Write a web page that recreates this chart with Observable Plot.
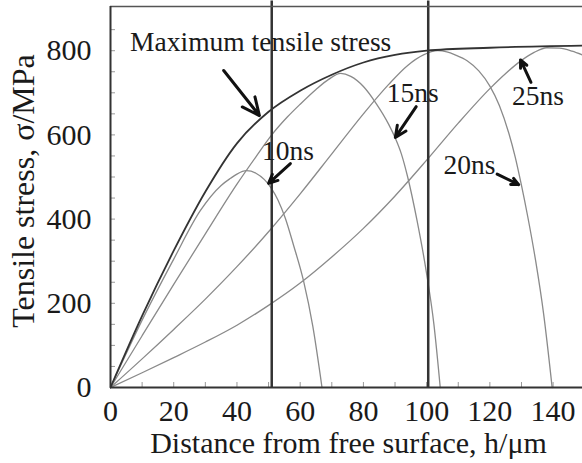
<!DOCTYPE html>
<html><head><meta charset="utf-8">
<script src="https://cdn.jsdelivr.net/npm/d3@7"></script>
<script src="https://cdn.jsdelivr.net/npm/@observablehq/plot@0.6"></script>
<style>body{margin:0;background:#fff}</style>
</head><body><div id="chart"></div>
<script>
const xTicks = [0, 20, 40, 60, 80, 100, 120, 140];
const xMinor = [10, 20, 30, 40, 50, 60, 70, 80, 90, 100, 110, 120, 130, 140];
const yTicks = [0, 200, 400, 600, 800];
const yMinor = [50, 100, 150, 200, 250, 300, 350, 400, 450, 500, 550, 600, 650, 700, 750, 800, 850];

const envelope = [[0,0],[10,170],[20,325],[30,465],[40,580],[50,655],[60,705],[70,743],[80,772],[90,790],[100,800],[120,807],[149.3,812]];
const ns10 = [[0,0],[10,160],[20,305],[28.4,420],[35,480],[38,497],[40,507],[43,515],[46,509],[51,472],[53,445],[55.3,402],[57.9,338],[61.1,252],[64,145],[66.9,0]];
const ns15 = [[0,0],[10,123],[20,245],[30,365],[40,483],[46,548],[51,600],[56,643],[60,673],[65,708],[69,732],[72.8,746],[76,739],[80,715],[84,675],[88,625],[90.1,592],[92,555],[94,500],[97,395],[100,270],[102.3,150],[104.3,0]];
const ns20 = [[0,0],[10,68],[20,138],[30,210],[40,287],[50,370],[60,460],[70,555],[80,650],[88,720],[94,765],[99,790],[103.5,800],[106.4,797],[109,790],[112.8,776],[116.5,752],[120,716],[123,670],[126,604],[128,548],[130,480],[132,405],[134.5,300],[137,175],[139.7,0]];
const ns25 = [[0,0],[10,35],[20,71],[30,108],[40,148],[50,195],[60,248],[70,310],[80,378],[90,455],[100,540],[110,628],[120,710],[125,746],[130,777],[134,796],[138,807],[142,806],[146,799],[149.3,790]];
const seriesNames = ["10ns", "15ns", "20ns", "25ns"];
const seriesData = [ns10, ns15, ns20, ns25];

const vLines = [51, 100.5];

const labels = [
  {text: "Maximum tensile stress", x: 6.2, y: 800},
  {text: "10ns", x: 47.9, y: 541},
  {text: "15ns", x: 87.4, y: 678},
  {text: "20ns", x: 105.3, y: 507},
  {text: "25ns", x: 127, y: 670}
];
const arrows = [
  {x1: 35.8, y1: 753, x2: 47.1, y2: 646},
  {x1: 56.9, y1: 532, x2: 50.0, y2: 485},
  {x1: 96.7, y1: 667, x2: 90.1, y2: 594},
  {x1: 133.0, y1: 725, x2: 129.7, y2: 778},
  {x1: 122.3, y1: 507, x2: 129.1, y2: 482}
];

const rows = seriesData.flatMap((pts, i) => pts.map(([x, y]) => ({t: seriesNames[i], x, y})));
const env = envelope.map(([x, y]) => ({x, y}));

const chart = Plot.plot({
  width: 582,
  height: 463,
  marginLeft: 110,
  marginRight: 0,
  marginTop: 6,
  marginBottom: 76,
  style: {fontFamily: "Liberation Serif", fontSize: "30px", color: "#1a1a1a", background: "#fff"},
  x: {domain: [0, 149.3], ticks: xTicks, tickSize: 0, tickPadding: 12, label: null},
  y: {domain: [0, 905], ticks: yTicks, tickSize: 0, tickPadding: 19, label: null},
  marks: [
    Plot.tickX(xMinor, {x: d => d, stroke: "#999", insetTop: 376}),
    Plot.tickY(yMinor, {y: d => d, stroke: "#999", insetRight: 467}),
    Plot.line(rows, {x: "x", y: "y", z: "t", stroke: "#8a8a8a", strokeWidth: 1.3, curve: "monotone-x"}),
    Plot.line(env, {x: "x", y: "y", stroke: "#333", strokeWidth: 1.8, curve: "monotone-x"}),
    Plot.ruleX(vLines, {x: d => d, y1: 0, y2: 918, stroke: "#333", strokeWidth: 2.5}),
    Plot.ruleY([905], {stroke: "#555", strokeWidth: 1.5}),
    Plot.ruleY([0], {stroke: "#333", strokeWidth: 2}),
    Plot.ruleX([0], {stroke: "#333", strokeWidth: 2}),
    Plot.arrow(arrows, {x1: "x1", y1: "y1", x2: "x2", y2: "y2", stroke: "#111", strokeWidth: 3, headLength: 11, headAngle: 50}),
    Plot.text(labels, {x: "x", y: "y", text: "text", textAnchor: "start", lineAnchor: "bottom", fontSize: 27.5, fill: "#1a1a1a"}),
    Plot.text(["Tensile stress, σ/MPa"], {frameAnchor: "left", textAnchor: "middle", rotate: -90, dx: -77, dy: -6, lineAnchor: "bottom", fontSize: 32, fill: "#1a1a1a"}),
    Plot.text(["Distance from free surface, h/μm"], {frameAnchor: "bottom", textAnchor: "middle", dx: 2, dy: 65, lineAnchor: "bottom", fontSize: 30, fill: "#1a1a1a"})
  ]
});
document.getElementById("chart").appendChild(chart);
</script>
</body></html>
